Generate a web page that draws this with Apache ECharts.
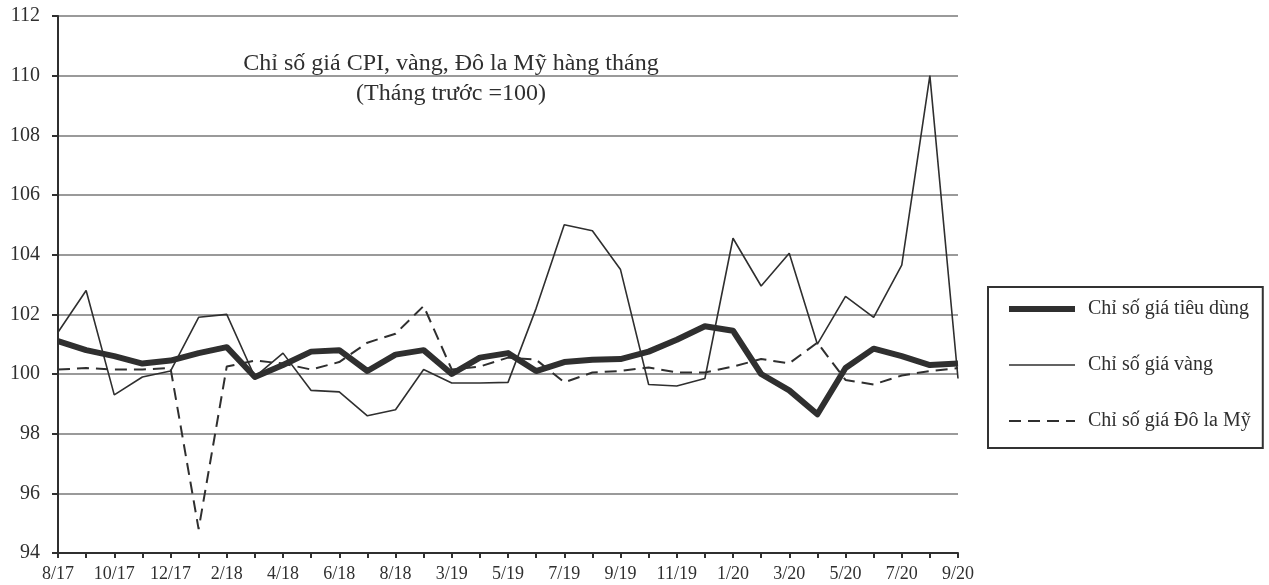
<!DOCTYPE html>
<html>
<head>
<meta charset="utf-8">
<script src="https://cdn.jsdelivr.net/npm/echarts@6/dist/echarts.min.js"></script>
<style>
  html, body { margin: 0; padding: 0; background: #fff; }
  #chart { width: 1269px; height: 585px; }
</style>
</head>
<body>
<div id="chart"></div>
<script>
// thang (trong du lieu goc bi ngat tu 8/18 sang 3/19)
var months = ['8/17', '9/17', '10/17', '11/17', '12/17', '1/18', '2/18', '3/18', '4/18', '5/18', '6/18', '7/18', '8/18', '2/19',
  '3/19', '4/19', '5/19', '6/19', '7/19', '8/19', '9/19', '10/19', '11/19', '12/19',
  '1/20', '2/20', '3/20', '4/20', '5/20', '6/20', '7/20', '8/20', '9/20'];

var cpi = [101.1, 100.8, 100.6, 100.35, 100.45, 100.7, 100.9, 99.9, 100.3, 100.75, 100.8, 100.1, 100.65, 100.8,
  100.0, 100.55, 100.7, 100.1, 100.4, 100.48, 100.5, 100.75, 101.15, 101.6,
  101.45, 100.0, 99.45, 98.65, 100.2, 100.85, 100.6, 100.3, 100.35];

var vang = [101.4, 102.8, 99.3, 99.9, 100.1, 101.9, 102.0, 99.9, 100.7, 99.45, 99.4, 98.6, 98.8, 100.15,
  99.7, 99.7, 99.72, 102.2, 105.0, 104.8, 103.5, 99.65, 99.6, 99.85,
  104.55, 102.95, 104.05, 101.0, 102.6, 101.9, 103.65, 110.0, 99.85];

var usd = [100.15, 100.2, 100.15, 100.15, 100.2, 94.8, 100.25, 100.45, 100.35, 100.15, 100.4, 101.05, 101.35, 102.28,
  100.15, 100.25, 100.55, 100.48, 99.72, 100.05, 100.1, 100.22, 100.05, 100.05,
  100.25, 100.5, 100.36, 101.05, 99.8, 99.65, 99.95, 100.1, 100.2];

var seriesNames = ['Chỉ số giá tiêu dùng', 'Chỉ số giá vàng', 'Chỉ số giá Đô la Mỹ'];

var font = 'Liberation Serif';
var ink = '#2f2f2f';

var chart = echarts.init(document.getElementById('chart'));

// legend chi ve duong, khong ve cham tron
var noDot = { color: 'transparent', borderWidth: 0, opacity: 0 };

var option = {
  backgroundColor: '#fff',
  animation: false,
  textStyle: { fontFamily: font, color: ink },
  title: [
    {
      text: 'Chỉ số giá CPI, vàng, Đô la Mỹ hàng tháng',
      left: 446,
      top: 47,
      textAlign: 'center',
      textStyle: { fontFamily: font, fontSize: 24, fontWeight: 'normal', color: ink }
    },
    {
      text: '(Tháng trước =100)',
      left: 446,
      top: 77,
      textAlign: 'center',
      textStyle: { fontFamily: font, fontSize: 24, fontWeight: 'normal', color: ink }
    }
  ],
  legend: {
    orient: 'vertical',
    left: 988,
    top: 287,
    padding: [12, 12, 17, 18],
    itemGap: 36,
    itemWidth: 66,
    itemHeight: 18,
    borderColor: '#333',
    borderWidth: 2,
    textStyle: { fontFamily: font, fontSize: 20, color: ink, padding: [0, 0, 0, 8] },
    data: [
      { name: seriesNames[0], lineStyle: { width: 6 }, itemStyle: noDot },
      { name: seriesNames[1], lineStyle: { width: 1.6 }, itemStyle: noDot },
      { name: seriesNames[2], lineStyle: { width: 2, type: [12, 7] }, itemStyle: noDot }
    ]
  },
  grid: {
    left: 58,
    right: 311,
    top: 16,
    bottom: 32
  },
  xAxis: {
    type: 'category',
    data: months,
    boundaryGap: false,
    axisLine: { lineStyle: { color: ink, width: 2 } },
    axisTick: { show: true, interval: 0, length: 5, lineStyle: { color: ink, width: 2 } },
    axisLabel: { interval: 1, margin: 12, fontFamily: font, fontSize: 18, color: ink }
  },
  yAxis: {
    type: 'value',
    min: 94,
    max: 112,
    interval: 2,
    axisLine: { show: true, lineStyle: { color: ink, width: 2 } },
    axisTick: { show: true, length: 6, lineStyle: { color: ink, width: 2 } },
    axisLabel: { margin: 18, fontFamily: font, fontSize: 20, color: ink },
    splitLine: { lineStyle: { color: '#9a9a9a', width: 2 } }
  },
  series: [
    {
      name: seriesNames[0],
      type: 'line',
      data: cpi,
      symbol: 'none',
      z: 5,
      lineStyle: { color: ink, width: 6, join: 'round' },
      itemStyle: { color: ink }
    },
    {
      name: seriesNames[1],
      type: 'line',
      data: vang,
      symbol: 'none',
      z: 4,
      lineStyle: { color: ink, width: 1.6 },
      itemStyle: { color: ink }
    },
    {
      name: seriesNames[2],
      type: 'line',
      data: usd,
      symbol: 'none',
      z: 3,
      lineStyle: { color: ink, width: 2, type: [12, 7] },
      itemStyle: { color: ink }
    }
  ]
};

chart.setOption(option);
</script>
</body>
</html>
